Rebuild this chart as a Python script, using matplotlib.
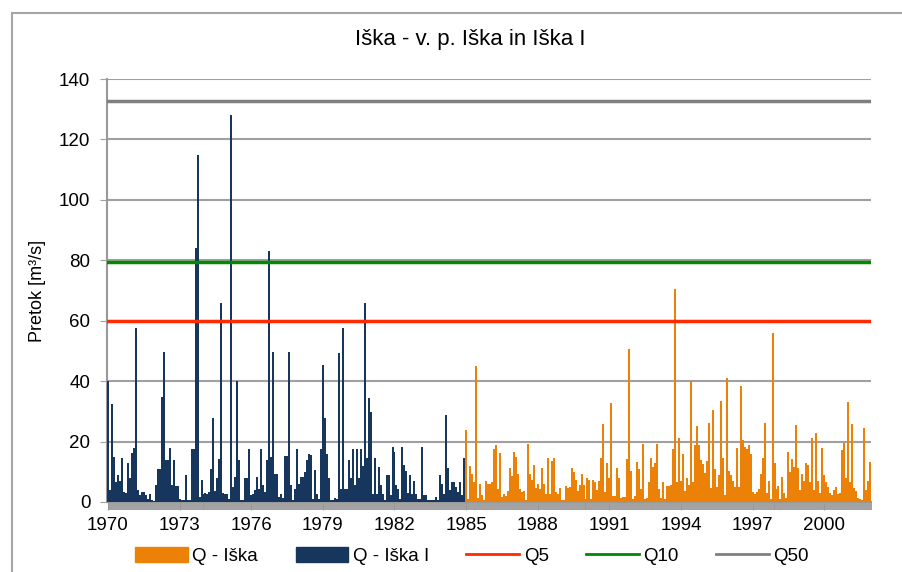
import numpy as np
import matplotlib.pyplot as plt
from matplotlib.patches import Patch, Rectangle
from matplotlib.lines import Line2D

plt.rcParams['font.family'] = ['Liberation Sans', 'DejaVu Sans']

# monthly flows, m3/s
# Iška I: 1970-01 .. 1984-12
iska_1 = [
    40, 4, 32.5, 15, 6.7, 9, 7, 14.7, 3.3, 3, 12.8, 8,
    16.3, 17.8, 57.5, 3.9, 2.4, 3.3, 3.3, 2.4, 1.1, 2.8, 0.6, 0.3,
    5.6, 10.8, 10.8, 34.7, 49.5, 13.9, 13.9, 17.8, 5.6, 13.9, 5.3, 5.3,
    1.1, 0.8, 0.8, 9.1, 0.6, 0.6, 17.6, 17.6, 84, 115, 1.7, 7.2,
    2.8, 3.1, 2.8, 3.3, 11, 27.8, 3.6, 8, 14.2, 66, 3.1, 2.8,
    2.8, 1.1, 128, 5, 8.3, 40, 13.9, 0.8, 0.6, 8, 8, 17.6,
    2.4, 2.8, 3.9, 8.3, 4.4, 17.6, 5.6, 3.3, 13.9, 83, 15, 49.5,
    9.4, 9.4, 1.7, 2.8, 1.3, 15.3, 15.3, 49.5, 5.6, 0.6, 4.2, 17.6,
    6.1, 8.3, 8.3, 10, 13.9, 15.8, 15.6, 1.1, 10.6, 2.8, 1.1, 17.6,
    45.5, 27.8, 16, 7.8, 0.8, 0.6, 1.3, 1.1, 49.4, 4.4, 57.6, 4.2,
    4.2, 13.9, 8, 17.6, 5.6, 17.6, 8, 17.6, 12, 66, 14.7, 34.5,
    29.8, 2.8, 14.7, 2.8, 11.7, 5.6, 2.8, 0.6, 8.9, 8.9, 2.4, 18.3,
    16.7, 5.6, 4.2, 1.1, 18.3, 12.2, 10.2, 3.1, 8.9, 2.8, 6.9, 2.8,
    0.9, 1.1, 18.3, 2.4, 2.2, 0.8, 0.6, 0.6, 0.8, 1.6, 0.8, 8.9,
    6.1, 2.8, 28.7, 11.3, 3.9, 6.7, 6.7, 5, 3.3, 6.7, 2.2, 14.7,
]
# Iška: 1985-01 .. 2001-12
iska = [
    23.9, 1.1, 11.9, 9.4, 6.7, 45, 1.3, 5.8, 2.4, 0.6, 6.9, 5.8,
    6.1, 6.7, 17.6, 18.9, 4.2, 16.3, 1.7, 2.8, 2, 3.7, 11.3, 8.7,
    16.7, 14.8, 9.2, 4.2, 3.3, 3.7, 0.6, 19.2, 9.2, 7.4, 12.2, 4.7,
    6.1, 4.2, 11.1, 5.9, 2.8, 14.7, 2.8, 13.6, 14.7, 3.3, 2.8, 4.7,
    0.6, 0.6, 5.2, 4.7, 5, 11.1, 10, 7.2, 3.7, 5.6, 9.4, 5.6,
    1.1, 7.8, 7.2, 1.1, 7.2, 6.7, 3.9, 6.9, 14.7, 25.8, 3.3, 12.8,
    8, 32.8, 1.9, 2, 11.3, 8, 1.3, 1.7, 1.7, 14.2, 50.5, 10.2,
    1.1, 2, 13.3, 10.8, 4.2, 19.1, 0.9, 1.3, 6.7, 14.7, 11.7, 12.8,
    19.1, 4.4, 1.3, 6.7, 1.1, 5.2, 5.2, 5.6, 17.6, 70.5, 6.7, 21.1,
    6.9, 15.8, 3.6, 7.8, 5.6, 40, 6.7, 19, 25, 19, 14, 12.5,
    9.5, 13.5, 26, 4.5, 30.5, 11, 5, 9, 33.5, 14.7, 2.3, 41,
    10.2, 9.1, 6.9, 5, 17.8, 5, 38.5, 20.5, 18.3, 17.6, 19, 15.8,
    3.3, 2.5, 3.3, 4.4, 9.4, 14.7, 26.3, 3.1, 6.9, 1.1, 56, 12.8,
    4.4, 5.2, 0.9, 8.3, 3.1, 1.3, 16.7, 10, 14.2, 11.7, 25.6, 11.3,
    3.9, 9.4, 6.9, 12.8, 12.2, 6.7, 21.1, 3.9, 22.8, 6.9, 3.1, 18,
    8.9, 6.7, 5, 3.1, 2.4, 3.9, 5, 2.8, 3.1, 17.2, 19.4, 7.8,
    33.1, 6.7, 25.8, 4.7, 3.6, 1.3, 0.9, 0.6, 24.4, 3.9, 6.9, 13.3,
]
q5, q10, q50 = 60, 79.3, 132.7
years = list(range(1970, 2001, 3))

navy = '#17365D'
orange = '#EC8108'
red = '#FF2A00'
green = '#008A00'
gray = '#7F7F7F'

fig = plt.figure(figsize=(9.02, 5.72), dpi=100)
fig.patches.append(Rectangle((12 / 902, -0.01), 1, 1 - 13 / 572 + 0.01,
                             transform=fig.transFigure, fill=False,
                             edgecolor='#A6A6A6', lw=1.5))
ax = fig.add_axes([107 / 902, 70 / 572, 764 / 902, 423 / 572])

x1 = np.arange(len(iska_1))
x2 = len(iska_1) + np.arange(len(iska))
ax.bar(x1, iska_1, width=1.0, lw=0, color=navy, zorder=3)
ax.bar(x2, iska, width=1.0, lw=0, color=orange, zorder=3)

ax.axhline(q5, color=red, lw=2.5, zorder=4)
ax.axhline(q10, color=green, lw=2.5, zorder=4)
ax.axhline(q50, color=gray, lw=2.5, zorder=4)

n = len(iska_1) + len(iska)
ax.set_xlim(-0.5, n - 0.5)
ax.set_ylim(0, 140)
ax.set_yticks(range(0, 141, 20))
ax.yaxis.grid(True, color='#A0A0A0', lw=1.5, zorder=0)
ax.set_xticks([(y - 1970) * 12 for y in years])
ax.set_xticklabels([str(y) for y in years])
ax.set_xticks(np.arange(n) + 0.5, minor=True)

for s in ['top', 'right']:
    ax.spines[s].set_visible(False)
for s in ['left', 'bottom']:
    ax.spines[s].set_color('#999999')
    ax.spines[s].set_linewidth(1.5)

ax.tick_params(axis='x', which='major', length=6, color='#999999', labelsize=13.5, pad=5)
ax.tick_params(axis='x', which='minor', length=6, color='#9A9A9A', width=1.3)
ax.tick_params(axis='y', length=5, color='#A0A0A0', labelsize=13.5, pad=7)

ax.set_ylabel('Pretok [m³/s]', fontsize=13, labelpad=9)
fig.text(470 / 902, 1 - 40 / 572, 'Iška - v. p. Iška in Iška I',
         ha='center', va='center', fontsize=16)

handles = [Patch(color=orange), Patch(color=navy),
           Line2D([], [], color=red, lw=2), Line2D([], [], color=green, lw=2),
           Line2D([], [], color=gray, lw=2)]
labels = ['Q - Iška', 'Q - Iška I', 'Q5', 'Q10', 'Q50']
fig.legend(handles, labels, loc='center', bbox_to_anchor=(472 / 902, 1 - 556 / 572),
           ncol=5, frameon=False, fontsize=13.5, handlelength=2.8, handleheight=0.8,
           handletextpad=0.25, columnspacing=2.0)

fig.savefig('out.png', dpi=100)
